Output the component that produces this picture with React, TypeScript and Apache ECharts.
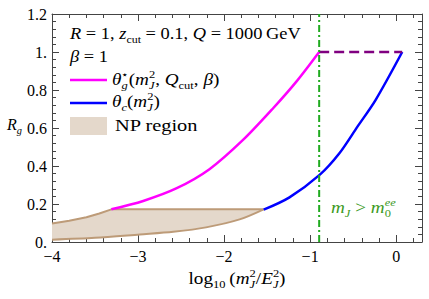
import React, { useEffect, useRef } from "react";
import * as echarts from "echarts";

const FONT = "Liberation Serif";

// x: log10(m_J^2/E_J^2), y: R_g
const magentaCurve: [number, number][] = [
  [-3.31, 0.172], [-2.94, 0.216], [-2.55, 0.283], [-2.17, 0.383],
  [-1.78, 0.537], [-1.43, 0.704], [-1.16, 0.844], [-0.895, 1.0],
];
const blueCurve: [number, number][] = [
  [-1.54, 0.17], [-1.24, 0.235], [-0.89, 0.353], [-0.66, 0.467],
  [-0.45, 0.607], [-0.24, 0.747], [0.07, 1.0],
];
const purpleDashed: [number, number][] = [[-0.895, 1.0], [0.07, 1.0]];
const greenVertical: [number, number][] = [[-0.895, 0], [-0.895, 1.2]];
const npUpper: [number, number][] = [
  [-4, 0.097], [-3.8, 0.112], [-3.6, 0.13], [-3.45, 0.15], [-3.31, 0.172], [-1.54, 0.172],
];
const npLower: [number, number][] = [
  [-4, 0.012], [-3.5, 0.022], [-2.98, 0.04], [-2.59, 0.054],
  [-2.21, 0.077], [-1.82, 0.119], [-1.54, 0.172],
];
const xMajorTicks = { min: -4, max: 0.3, major: 1, minor: 0.2 };
const yMajorTicks = { min: 0, max: 1.2, major: 0.2, minor: 0.04 };

type Piece = { t: string; it?: boolean; sc?: number; dy?: number; noAdv?: boolean };

let measureCtx: CanvasRenderingContext2D | null = null;
function measure(t: string, fs: number, it: boolean) {
  if (!measureCtx) measureCtx = document.createElement("canvas").getContext("2d");
  if (!measureCtx) return t.length * fs * 0.5;
  measureCtx.font = `${it ? "italic " : ""}${fs}px ${FONT}`;
  return measureCtx.measureText(t).width;
}

function mathText(pieces: Piece[], x0: number, baseline: number, size: number, color: string, sx = 1.2, center = false) {
  const layout: { p: Piece; x: number; fs: number; it: boolean }[] = [];
  let x = 0;
  let pending = 0;
  for (const p of pieces) {
    const fs = size * (p.sc ?? 1);
    const it = !!p.it;
    const w = measure(p.t, fs, it) * sx;
    layout.push({ p, x, fs, it });
    if (p.noAdv) {
      pending = Math.max(pending, w);
    } else {
      x += Math.max(w, pending);
      pending = 0;
    }
  }
  const total = x + pending;
  const start = center ? x0 - total / 2 : x0;
  return layout.map(({ p, x: px, fs, it }) => ({
    type: "text",
    x: start + px,
    y: baseline + (p.dy ?? 0) * size - 0.34 * fs,
    scaleX: sx,
    style: {
      text: p.t,
      fill: color,
      fontSize: fs,
      fontFamily: FONT,
      fontStyle: it ? "italic" : "normal",
      textAlign: "left",
      textVerticalAlign: "middle",
    },
    z: 100,
  }));
}

const S = 0.65;
const SUP = -0.42;
const SUB = 0.24;

export default function App() {
  const ref = useRef<HTMLDivElement>(null);
  useEffect(() => {
    if (!ref.current) return;
    const chart = echarts.init(ref.current, undefined, { renderer: "svg" });
    const frame = "#444";
    const fmtX = (v: number) => (Math.abs(v - Math.round(v)) > 1e-6 ? "" : v < 0 ? "\u2212" + Math.abs(Math.round(v)) : String(Math.round(v)));
    const fmtY = (v: number) => {
      const r = Math.round(v * 10) / 10;
      if (r === 0) return "0.";
      if (r === 1) return "1.";
      return r.toFixed(1);
    };
    const majorX = (pos: "top" | "bottom", labels: boolean) => ({
      type: "value", position: pos, min: xMajorTicks.min, max: xMajorTicks.max, interval: xMajorTicks.major,
      axisLine: { show: true, onZero: false, lineStyle: { color: frame, width: 1 } },
      axisTick: { show: true, inside: true, length: 7, lineStyle: { color: frame, width: 1 } },
      axisLabel: { show: labels, formatter: fmtX, margin: 6, fontSize: 16, fontFamily: FONT, color: "#000", showMaxLabel: false },
      splitLine: { show: false },
    });
    const minorX = (pos: "top" | "bottom") => ({
      type: "value", position: pos, min: xMajorTicks.min, max: xMajorTicks.max, interval: xMajorTicks.minor,
      axisLine: { show: false, onZero: false },
      axisTick: { show: true, inside: true, length: 4, lineStyle: { color: frame, width: 1 } },
      axisLabel: { show: false },
      splitLine: { show: false },
    });
    const majorY = (pos: "left" | "right", labels: boolean) => ({
      type: "value", position: pos, min: yMajorTicks.min, max: yMajorTicks.max, interval: yMajorTicks.major,
      axisLine: { show: true, onZero: false, lineStyle: { color: frame, width: 1 } },
      axisTick: { show: true, inside: true, length: 7, lineStyle: { color: frame, width: 1 } },
      axisLabel: { show: labels, formatter: fmtY, margin: 5, fontSize: 16, fontFamily: FONT, color: "#000" },
      splitLine: { show: false },
    });
    const minorY = (pos: "left" | "right") => ({
      type: "value", position: pos, min: yMajorTicks.min, max: yMajorTicks.max, interval: yMajorTicks.minor,
      axisLine: { show: false, onZero: false },
      axisTick: { show: true, inside: true, length: 4, lineStyle: { color: frame, width: 1 } },
      axisLabel: { show: false },
      splitLine: { show: false },
    });

    const line = (data: [number, number][], color: string, width: number, type: any = "solid", smooth: any = false, z = 3) => ({
      type: "line", data, xAxisIndex: 0, yAxisIndex: 0, showSymbol: false, symbol: "none",
      smooth, z,
      lineStyle: { color, width, type, cap: "butt" }, silent: true,
    });

    const graphics: any[] = [
      ...mathText([
        { t: "R", it: true }, { t: " = 1, " }, { t: "z", it: true }, { t: "cut", sc: S, dy: SUB },
        { t: " = 0.1, " }, { t: "Q", it: true }, { t: " = 1000\u2009GeV" },
      ], 70, 39, 16, "#000", 1.15),
      ...mathText([{ t: "\u03B2", it: true }, { t: " = 1" }], 70, 62, 16, "#000", 1.15),
      { type: "line", shape: { x1: 70, y1: 80, x2: 107, y2: 80 }, style: { stroke: "#ff00ff", lineWidth: 2.5 }, z: 100 },
      ...mathText([
        { t: "\u03B8", it: true }, { t: "\u22C6", sc: S, dy: SUP, noAdv: true }, { t: "g", it: true, sc: S, dy: SUB },
        { t: "(" }, { t: "m", it: true }, { t: "2", sc: S, dy: SUP, noAdv: true }, { t: "J", it: true, sc: S, dy: SUB },
        { t: ", " }, { t: "Q", it: true }, { t: "cut", sc: S, dy: SUB }, { t: ", " }, { t: "\u03B2", it: true }, { t: ")" },
      ], 112, 85, 16, "#000"),
      { type: "line", shape: { x1: 70, y1: 103, x2: 107, y2: 103 }, style: { stroke: "#0000ff", lineWidth: 2.5 }, z: 100 },
      ...mathText([
        { t: "\u03B8", it: true }, { t: "c", it: true, sc: S, dy: SUB },
        { t: "(" }, { t: "m", it: true }, { t: "2", sc: S, dy: SUP, noAdv: true }, { t: "J", it: true, sc: S, dy: SUB }, { t: ")" },
      ], 112, 107, 16, "#000"),
      { type: "rect", shape: { x: 70, y: 117, width: 37, height: 18 }, style: { fill: "#e4d8cb" }, z: 100 },
      ...mathText([{ t: "NP region" }], 115, 131, 17, "#000"),
      ...mathText([{ t: "R", it: true }, { t: "g", it: true, sc: S, dy: SUB }], 7, 130, 16, "#000", 1.0),
      ...mathText([
        { t: "log" }, { t: "10", sc: S, dy: SUB }, { t: "\u2009(" }, { t: "m", it: true },
        { t: "2", sc: S, dy: SUP, noAdv: true }, { t: "J", it: true, sc: S, dy: SUB }, { t: "/" },
        { t: "E", it: true }, { t: "2", sc: S, dy: SUP, noAdv: true }, { t: "J", it: true, sc: S, dy: SUB }, { t: ")" },
      ], 237, 284, 16, "#000", 1.2, true),
      ...mathText([
        { t: "m", it: true }, { t: "J", it: true, sc: S, dy: SUB }, { t: " > " }, { t: "m", it: true },
        { t: "ee", it: true, sc: S, dy: SUP, noAdv: true }, { t: "0", sc: S, dy: SUB },
      ], 331, 213, 16, "#3c9a1e"),
    ];

    chart.setOption({
      animation: false,
      backgroundColor: "#fff",
      textStyle: { fontFamily: FONT },
      grid: { left: 52, right: 7, top: 14, bottom: 57, containLabel: false },
      xAxis: [majorX("bottom", true), minorX("bottom"), majorX("top", false), minorX("top")],
      yAxis: [majorY("left", true), minorY("left"), majorY("right", false), minorY("right")],
      series: [
        {
          type: "custom", xAxisIndex: 0, yAxisIndex: 0, z: 1, silent: true,
          data: [[npUpper[0][0], npUpper[0][1]]],
          renderItem: (_params: any, api: any) => {
            const pts = [...npUpper, ...[...npLower].reverse()].map((p) => api.coord(p));
            return { type: "polygon", shape: { points: pts }, style: { fill: "#e4d8cb", stroke: "none" } };
          },
        },
        line(npUpper, "#bd9b78", 2, "solid", false, 2),
        line(npLower, "#bd9b78", 2, "solid", 0.3, 2),
        line(magentaCurve, "#ff00ff", 2.5, "solid", 0.3),
        line(blueCurve, "#0000ff", 2.5, "solid", 0.3),
        line(purpleDashed, "#800080", 2.5, [10, 5]),
        line(greenVertical, "#1faa1f", 2, [7, 3, 2, 3], false, 4),
      ],
      graphic: graphics,
    });
    return () => chart.dispose();
  }, []);
  return <div ref={ref} style={{ width: 429, height: 299, position: "absolute", left: 0, top: 0 }} />;
}
